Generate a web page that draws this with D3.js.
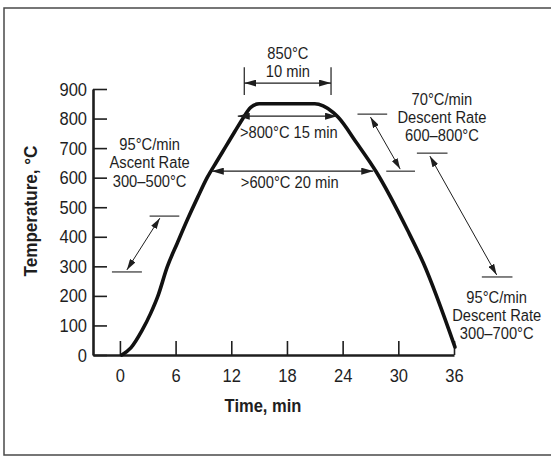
<!DOCTYPE html>
<html>
<head>
<meta charset="utf-8">
<script src="https://cdn.jsdelivr.net/npm/d3@7"></script>
<style>
  html, body { margin: 0; padding: 0; background: #fff; }
  svg { display: block; }
  text { font-family: "Liberation Sans", Arial, Helvetica, sans-serif; fill: #1e1e1e; }
</style>
</head>
<body>
<svg id="chart" width="551" height="457"></svg>
<script>
// Furnace profile: time (min) vs temperature (°C)
const timeMin = [0.2, 1.2, 2.4, 3.3, 4.1, 5.1, 6.2, 7.3, 8.4, 9.4, 10.4, 11.4, 12.4, 13.2, 14.1, 15.0, 21.0, 21.9, 23.0, 23.5, 25.5, 27.6, 31.0, 32.7, 36.1];
const tempC   = [0,   25,  84,  140, 200, 298, 380, 460, 535, 600, 653,  705,  757,  798,  838,  850,  850,  843,  820,  805,  718,  621,  422,  311,  27];

const xTicks = [0, 6, 12, 18, 24, 30, 36];
const yTicks = [0, 100, 200, 300, 400, 500, 600, 700, 800, 900];

// Dimension arrows across the plateau: [start time, end time, temperature]
const spans = [
  { from: 13.4, to: 22.75, at: 920, bars: [880, 974] },
  { from: 12.7, to: 23.4, at: 808 },
  { from: 9.9,  to: 27.3, at: 622 }
];
const spanLabels = [
  { t: 18.1, T: 1021, text: "850°C" },
  { t: 18.1, T: 960,  text: "10 min" },
  { t: 18.2, T: 754,  text: ">800°C 15 min" },
  { t: 18.3, T: 585,  text: ">600°C 20 min" }
];

// Rate annotations: two reference bars, a double arrow between them, three text lines
const rates = [
  { barA: [3.2, 6.4, 470],  barB: [-0.86, 2.37, 281], arrow: [4.3, 463, 0.75, 288],
    label: { t: 3.2, T: [711, 650, 589] }, lines: ["95°C/min", "Ascent Rate", "300–500°C"] },
  { barA: [25.6, 28.8, 815], barB: [28.7, 31.8, 622], arrow: [27.0, 805, 30.2, 629],
    label: { t: 34.7, T: [866, 805, 744] }, lines: ["70°C/min", "Descent Rate", "600–800°C"] },
  { barA: [32.0, 35.3, 683], barB: [39.0, 42.3, 264], arrow: [33.4, 673, 40.6, 271],
    label: { t: 40.6, T: [196, 135, 74] }, lines: ["95°C/min", "Descent Rate", "300–700°C"] }
];

const NARROW = 0.87;   // horizontal squeeze for a condensed look

const svg = d3.select("#chart");
const x = d3.scaleLinear().domain([-2.9, 36]).range([93, 454]);
const y = d3.scaleLinear().domain([0, 900]).range([355, 89]);

// frame
svg.append("path")
  .attr("d", "M551,8 H4 V455 H551")
  .attr("fill", "none").attr("stroke", "#4a4a4a").attr("stroke-width", 1.5);

// arrowhead markers
const defs = svg.append("defs");
function marker(id, len, half) {
  defs.append("marker")
    .attr("id", id).attr("markerUnits", "userSpaceOnUse")
    .attr("viewBox", `0 ${-half} ${len} ${2 * half}`)
    .attr("refX", len).attr("refY", 0)
    .attr("markerWidth", len).attr("markerHeight", 2 * half)
    .attr("orient", "auto-start-reverse")
    .append("path").attr("d", `M0,${-half} L${len},0 L0,${half} Z`).attr("fill", "#1e1e1e");
}
marker("headBig", 12, 3.5);
marker("headSmall", 11, 3.2);

// condensed text helper
function label(px, py, str, size, opts = {}) {
  const g = svg.append("g").attr("transform", `translate(${px},${py})${opts.rotate ? " rotate(-90)" : ""} scale(${opts.sx || NARROW},1)`);
  return g.append("text")
    .attr("dy", "0.35em").attr("text-anchor", "middle")
    .attr("font-size", size).attr("font-weight", opts.bold ? "bold" : null)
    .text(str);
}

// axes
const xAxis = d3.axisBottom(x).tickValues(xTicks).tickSizeInner(-14).tickSizeOuter(0).tickPadding(14);
const yAxis = d3.axisLeft(y).tickValues(yTicks).tickSizeInner(-14).tickSizeOuter(0).tickPadding(6);

const gx = svg.append("g").attr("transform", `translate(0,${y(0)})`).call(xAxis);
const gy = svg.append("g").attr("transform", `translate(${x(-2.9)},0)`).call(yAxis);
[gx, gy].forEach(g => {
  g.select(".domain").attr("stroke", "#1e1e1e").attr("stroke-width", 2.6);
  g.selectAll(".tick line").attr("stroke", "#1e1e1e").attr("stroke-width", 1.6);
  g.selectAll(".tick text").attr("font-size", 19)
    .attr("font-family", "'Liberation Sans', Arial, sans-serif")
    .attr("fill", "#1e1e1e")
    .attr("transform", `scale(${NARROW},1)`);
});
gy.selectAll(".tick text").attr("x", -6 / NARROW);

// axis titles
label(263, 405, "Time, min", 19, { bold: true });
label(30, 211, "Temperature, °C", 19, { bold: true, rotate: true, sx: 0.9 });

// temperature profile
const profile = timeMin.map((t, i) => [t, tempC[i]]);
svg.append("path")
  .datum(profile)
  .attr("fill", "none").attr("stroke", "#111").attr("stroke-width", 3.6)
  .attr("stroke-linecap", "round")
  .attr("d", d3.line().x(d => x(d[0])).y(d => y(d[1])).curve(d3.curveMonotoneX));

// plateau dimension arrows
spans.forEach(s => {
  svg.append("line")
    .attr("x1", x(s.from)).attr("x2", x(s.to)).attr("y1", y(s.at)).attr("y2", y(s.at))
    .attr("stroke", "#1e1e1e").attr("stroke-width", 1.3)
    .attr("marker-start", "url(#headBig)").attr("marker-end", "url(#headBig)");
  if (s.bars) {
    [s.from, s.to].forEach(t => {
      svg.append("line")
        .attr("x1", x(t)).attr("x2", x(t)).attr("y1", y(s.bars[0])).attr("y2", y(s.bars[1]))
        .attr("stroke", "#1e1e1e").attr("stroke-width", 1.2);
    });
  }
});
spanLabels.forEach(l => label(x(l.t), y(l.T), l.text, 16, { sx: 0.92 }));

// rate annotations
rates.forEach(r => {
  [r.barA, r.barB].forEach(b => {
    svg.append("line")
      .attr("x1", x(b[0])).attr("x2", x(b[1])).attr("y1", y(b[2])).attr("y2", y(b[2]))
      .attr("stroke", "#1e1e1e").attr("stroke-width", 1.1);
  });
  svg.append("line")
    .attr("x1", x(r.arrow[0])).attr("y1", y(r.arrow[1]))
    .attr("x2", x(r.arrow[2])).attr("y2", y(r.arrow[3]))
    .attr("stroke", "#1e1e1e").attr("stroke-width", 1)
    .attr("marker-start", "url(#headSmall)").attr("marker-end", "url(#headSmall)");
  r.lines.forEach((txt, i) => label(x(r.label.t), y(r.label.T[i]), txt, 16, { sx: 0.92 }));
});
</script>
</body>
</html>
